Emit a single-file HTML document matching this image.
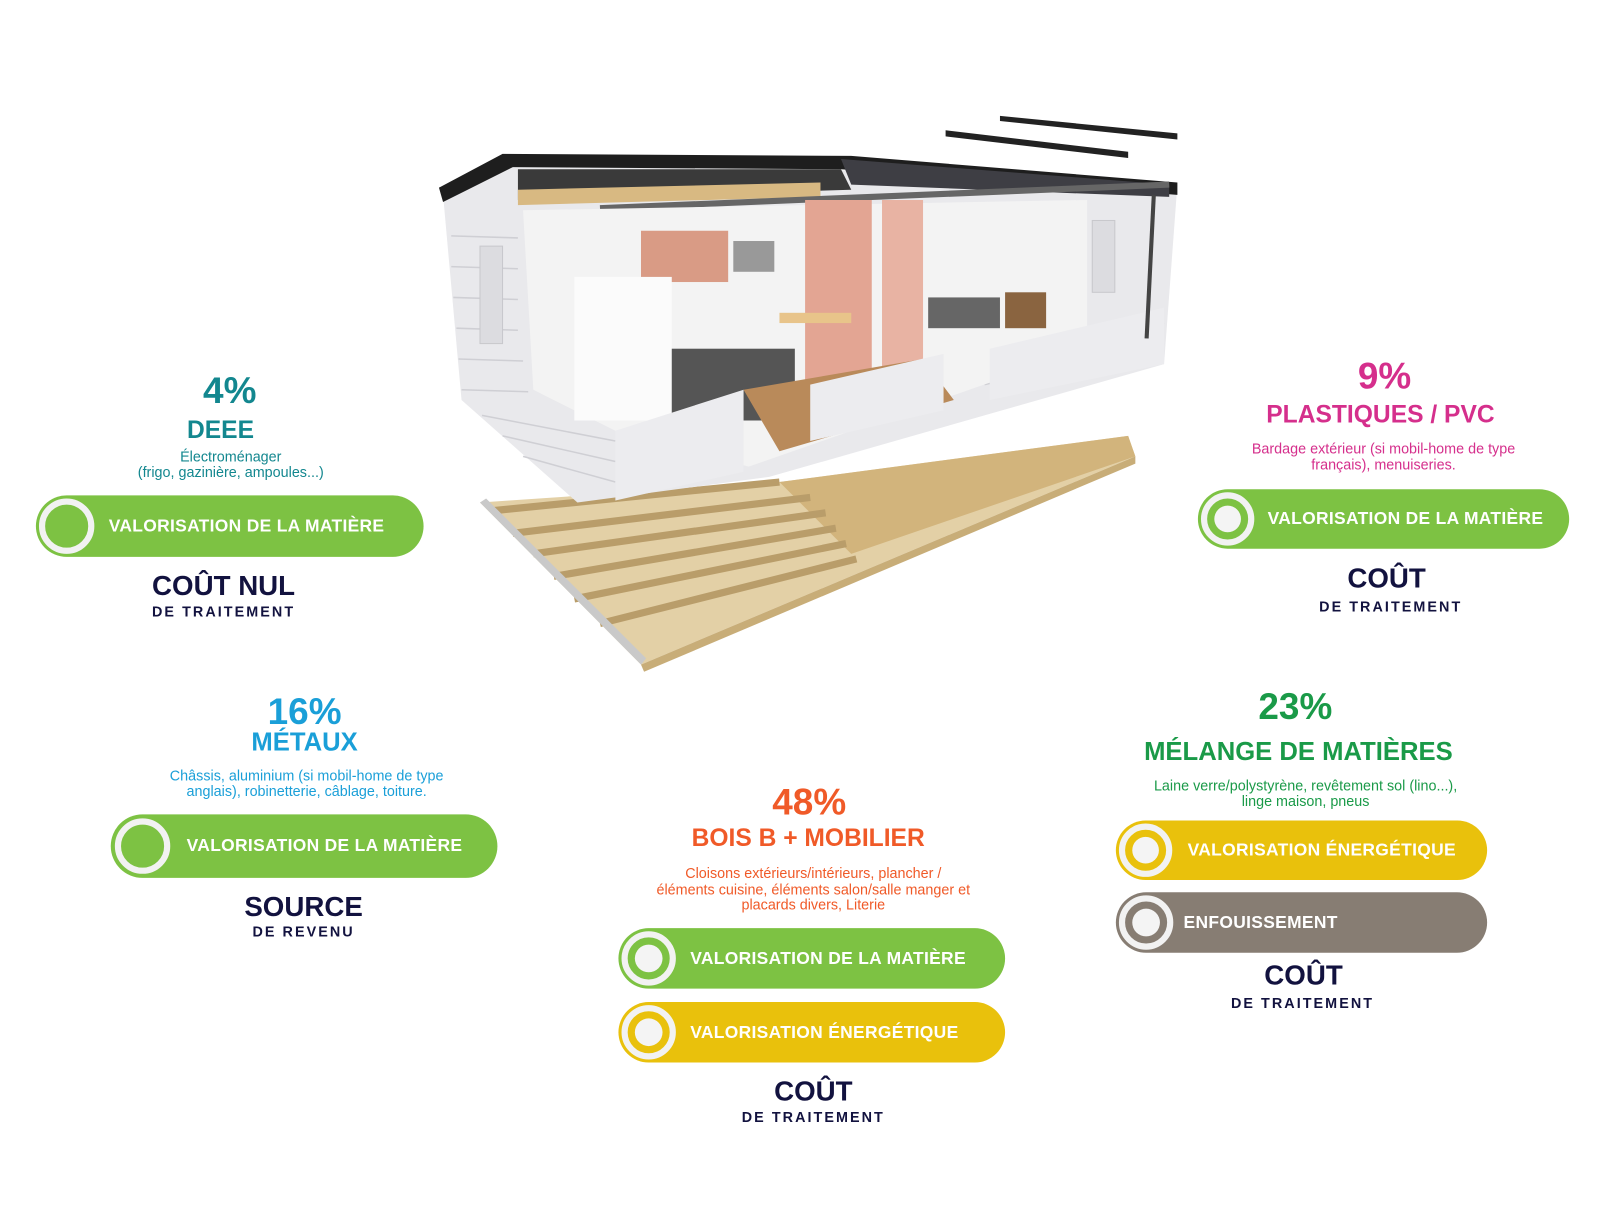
<!DOCTYPE html>
<html><head><meta charset="utf-8">
<style>
body{margin:0;width:1600px;height:1200px;background:#fff;position:relative;overflow:hidden;font-family:"Liberation Sans",sans-serif;}
#w{position:absolute;left:0;top:0;width:1600px;height:1200px;transform:scale(1.0256);transform-origin:0 0;}
.t{position:absolute;width:600px;text-align:center;white-space:nowrap;font-weight:bold;}
.p{position:absolute;border-radius:32px;color:#fff;font-weight:bold;font-size:17px;letter-spacing:0.3px;}
.p span{position:absolute;top:50%;transform:translateY(-50%);}
.r{position:absolute;border-radius:50%;box-sizing:border-box;border:6px solid #f2f2f2;}
.d{position:absolute;border-radius:50%;background:#f4f4f4;}
</style></head><body><div id="w">

<svg width="1600" height="1200" style="position:absolute;left:0;top:0">
 <polygon points="975,113 1148,130 1148,136 975,118" fill="#222"/>
 <polygon points="922,127 1100,148 1100,154 922,133" fill="#222"/>
 <polygon points="468,490 625,648 1107,445 1100,425 760,470" fill="#e3d0a6"/>
 <polygon points="760,470 1100,425 1107,445 830,540" fill="#d2b47c"/>
 <g stroke="#b99d6a" stroke-width="7">
  <line x1="480" y1="498" x2="760" y2="470"/>
  <line x1="500" y1="520" x2="790" y2="485"/>
  <line x1="520" y1="540" x2="805" y2="500"/>
  <line x1="540" y1="562" x2="815" y2="515"/>
  <line x1="560" y1="584" x2="825" y2="530"/>
  <line x1="585" y1="608" x2="835" y2="545"/>
 </g>
 <polygon points="468,490 625,648 630,642 474,486" fill="#c9c9c9"/>
 <polygon points="625,648 1107,445 1107,452 628,655" fill="#c8ad78"/>
 <polygon points="432,190 490,152 1148,180 1135,355 750,465 563,490 450,390" fill="#e9e9ec"/>
 <g stroke="#cfcfd4" stroke-width="1.5">
  <line x1="440" y1="230" x2="505" y2="232"/><line x1="440" y1="260" x2="505" y2="262"/>
  <line x1="442" y1="290" x2="505" y2="292"/><line x1="445" y1="320" x2="505" y2="322"/>
  <line x1="447" y1="350" x2="510" y2="352"/><line x1="450" y1="380" x2="515" y2="382"/>
  <line x1="470" y1="405" x2="600" y2="430"/><line x1="490" y1="425" x2="600" y2="450"/>
  <line x1="510" y1="445" x2="600" y2="470"/>
  <line x1="960" y1="355" x2="1135" y2="315"/><line x1="960" y1="375" x2="1135" y2="335"/>
 </g>
 <polygon points="428,183 490,150 830,152 1148,178 1148,190 820,165 500,163 432,197" fill="#1e1e1e"/>
 <polygon points="505,165 820,165 830,185 505,195" fill="#3a3a3a"/>
 <polygon points="505,185 800,178 800,192 505,200" fill="#d8b982"/>
 <polygon points="820,155 1140,180 1140,192 830,180" fill="#3e3e44"/>
 <line x1="585" y1="203" x2="1140" y2="180" stroke="#666" stroke-width="6"/>
 <polygon points="510,205 1060,195 1060,340 730,455 600,420 520,380" fill="#f3f3f3"/>
 <rect x="625" y="225" width="85" height="50" fill="#d99b85"/>
 <rect x="715" y="235" width="40" height="30" fill="#999"/>
 <rect x="785" y="195" width="65" height="200" fill="#e3a593"/>
 <rect x="860" y="195" width="40" height="175" fill="#e8b3a3"/>
 <rect x="560" y="270" width="95" height="140" fill="#fbfbfb"/>
 <rect x="655" y="340" width="120" height="70" fill="#555"/>
 <polygon points="725,380 900,350 930,390 760,440" fill="#b98a5a"/>
 <rect x="760" y="305" width="70" height="10" fill="#e8c48a"/>
 <rect x="905" y="290" width="70" height="30" fill="#666"/>
 <rect x="980" y="285" width="40" height="35" fill="#8a6440"/>
 <polygon points="600,420 725,380 725,460 600,488" fill="#ececef"/>
 <polygon points="790,375 920,345 920,400 790,430" fill="#ececef"/>
 <polygon points="965,340 1135,300 1135,355 965,390" fill="#ececef"/>
 <rect x="468" y="240" width="22" height="95" fill="#dcdce0" stroke="#c8c8cc"/>
 <rect x="1065" y="215" width="22" height="70" fill="#dcdce0" stroke="#c8c8cc"/>
 <line x1="1125" y1="190" x2="1118" y2="330" stroke="#444" stroke-width="4"/>
</svg>

<div class="t" style="left:-76px;top:360px;font-size:36px;color:#13878f;">4%</div>
<div class="t" style="left:-85px;top:406px;font-size:24px;color:#13878f;">DEEE</div>
<div class="t" style="left:-75px;top:438px;font-size:14px;font-weight:normal;color:#13878f;line-height:15px;">Électroménager<br>(frigo, gazinière, ampoules...)</div>
<div class="p" style="left:35px;top:483px;width:378px;height:60px;background:#7dc243;"><div class="r" style="left:3px;top:3px;width:54px;height:54px;"></div><span style="left:71px">VALORISATION DE LA MATIÈRE</span></div>
<div class="t" style="left:-82px;top:556px;font-size:27px;color:#12123f;">COÛT NUL</div>
<div class="t" style="left:-82px;top:588px;font-size:14px;letter-spacing:2px;color:#12123f;">DE TRAITEMENT</div>

<div class="t" style="left:1050px;top:346px;font-size:36px;color:#d52f8c;">9%</div>
<div class="t" style="left:1046px;top:391px;font-size:24px;color:#d52f8c;">PLASTIQUES / PVC</div>
<div class="t" style="left:1049px;top:429px;font-size:14px;font-weight:normal;color:#d52f8c;line-height:16px;">Bardage extérieur (si mobil-home de type<br>français), menuiseries.</div>
<div class="p" style="left:1168px;top:477px;width:362px;height:58px;background:#7dc243;"><div class="r" style="left:3px;top:3px;width:52px;height:52px;"></div><div class="d" style="left:16px;top:16px;width:26px;height:26px;"></div><span style="left:68px">VALORISATION DE LA MATIÈRE</span></div>
<div class="t" style="left:1052px;top:549px;font-size:27px;color:#12123f;">COÛT</div>
<div class="t" style="left:1056px;top:583px;font-size:14px;letter-spacing:2px;color:#12123f;">DE TRAITEMENT</div>

<div class="t" style="left:-3px;top:673px;font-size:36px;color:#1a9fd8;">16%</div>
<div class="t" style="left:-3px;top:710px;font-size:25px;color:#1a9fd8;">MÉTAUX</div>
<div class="t" style="left:-1px;top:749px;font-size:14px;font-weight:normal;color:#1a9fd8;line-height:15px;">Châssis, aluminium (si mobil-home de type<br>anglais), robinetterie, câblage, toiture.</div>
<div class="p" style="left:108px;top:794px;width:377px;height:62px;background:#7dc243;"><div class="r" style="left:4px;top:4px;width:54px;height:54px;"></div><span style="left:74px">VALORISATION DE LA MATIÈRE</span></div>
<div class="t" style="left:-4px;top:869px;font-size:27px;color:#12123f;">SOURCE</div>
<div class="t" style="left:-4px;top:900px;font-size:14px;letter-spacing:2px;color:#12123f;">DE REVENU</div>

<div class="t" style="left:963px;top:668px;font-size:36px;color:#1a9a48;">23%</div>
<div class="t" style="left:966px;top:719px;font-size:25px;color:#1a9a48;">MÉLANGE DE MATIÈRES</div>
<div class="t" style="left:973px;top:759px;font-size:14px;font-weight:normal;color:#1a9a48;line-height:15px;">Laine verre/polystyrène, revêtement sol (lino...),<br>linge maison, pneus</div>
<div class="p" style="left:1088px;top:800px;width:362px;height:58px;background:#e9c10c;"><div class="r" style="left:3px;top:3px;width:52px;height:52px;"></div><div class="d" style="left:16px;top:16px;width:26px;height:26px;"></div><span style="left:70px">VALORISATION ÉNERGÉTIQUE</span></div>
<div class="p" style="left:1088px;top:870px;width:362px;height:59px;background:#877d73;"><div class="r" style="left:3px;top:3px;width:53px;height:53px;"></div><div class="d" style="left:16px;top:16px;width:27px;height:27px;"></div><span style="left:66px">ENFOUISSEMENT</span></div>
<div class="t" style="left:971px;top:936px;font-size:27px;color:#12123f;">COÛT</div>
<div class="t" style="left:970px;top:970px;font-size:14px;letter-spacing:2px;color:#12123f;">DE TRAITEMENT</div>

<div class="t" style="left:489px;top:761px;font-size:36px;color:#f05a28;">48%</div>
<div class="t" style="left:488px;top:804px;font-size:24px;color:#f05a28;">BOIS B + MOBILIER</div>
<div class="t" style="left:493px;top:844px;font-size:14px;font-weight:normal;color:#f05a28;line-height:15.5px;">Cloisons extérieurs/intérieurs, plancher /<br>éléments cuisine, éléments salon/salle manger et<br>placards divers, Literie</div>
<div class="p" style="left:603px;top:905px;width:377px;height:59px;background:#7dc243;"><div class="r" style="left:3px;top:3px;width:53px;height:53px;"></div><div class="d" style="left:16px;top:16px;width:27px;height:27px;"></div><span style="left:70px">VALORISATION DE LA MATIÈRE</span></div>
<div class="p" style="left:603px;top:977px;width:377px;height:59px;background:#e9c10c;"><div class="r" style="left:3px;top:3px;width:53px;height:53px;"></div><div class="d" style="left:16px;top:16px;width:27px;height:27px;"></div><span style="left:70px">VALORISATION ÉNERGÉTIQUE</span></div>
<div class="t" style="left:493px;top:1049px;font-size:27px;color:#12123f;">COÛT</div>
<div class="t" style="left:493px;top:1081px;font-size:14px;letter-spacing:2px;color:#12123f;">DE TRAITEMENT</div>

</div></body></html>
